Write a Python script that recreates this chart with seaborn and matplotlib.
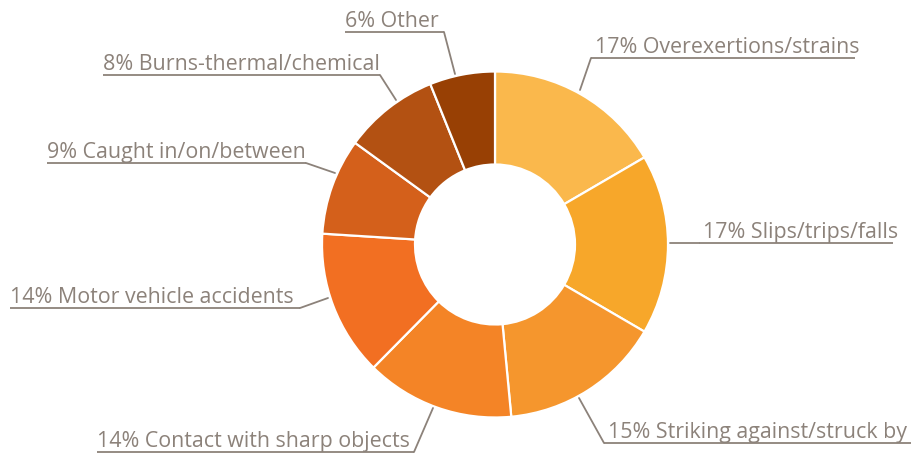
import matplotlib
matplotlib.use("Agg")
import matplotlib.pyplot as plt
import seaborn as sns

categories = ["Overexertions/strains", "Slips/trips/falls", "Striking against/struck by",
              "Contact with sharp objects", "Motor vehicle accidents", "Caught in/on/between",
              "Burns-thermal/chemical", "Other"]
label_pct = [17, 17, 15, 14, 14, 9, 8, 6]
shares = [16.6, 16.8, 15.1, 13.9, 13.6, 9.0, 8.9, 6.1]
colors = ["#FAB84C", "#F7A72A", "#F5962D", "#F48426", "#F26F22", "#D4601B", "#B35112", "#984004"]

W, H = 913, 459
sns.set_theme(style="white")
plt.rcParams['font.family'] = ['Open Sans', 'DejaVu Sans']

fig = plt.figure(figsize=(W / 100, H / 100), dpi=100)
ax = fig.add_axes([0, 0, 1, 1])

def px(x, y):
    return (x, H - y)

R = 173
ax.pie(shares, colors=sns.color_palette(colors), startangle=90, counterclock=False,
       center=px(495, 244.5), radius=R,
       wedgeprops=dict(width=R - 80, edgecolor="white", linewidth=1.6))
ax.set_xlim(0, W)
ax.set_ylim(0, H)
ax.set_aspect("equal")
ax.axis("off")

txt_color = "#8C827A"
# (text x start, underline y, underline x end, leader end point, leader attaches at 'left'/'right')
label_layout = [
    (595, 58, 855, (580, 90), "left"),
    (703, 243, 893, (670, 243), "left"),
    (608, 443, 911, (579, 398), "left"),
    (97, 452, 414, (433, 408), "right"),
    (10, 308, 300, (328, 298), "right"),
    (47, 163, 306, (335, 173), "right"),
    (103, 75, 380, (396, 100), "right"),
    (345, 32, 444, (455, 74), "right"),
]

for cat, val, (xs, uy, xe, lead, side) in zip(categories, label_pct, label_layout):
    ax.text(*px(xs, uy - 5), f"{val}% {cat}", color=txt_color, fontsize=15.4,
            ha="left", va="baseline")
    x0 = xs - 4 if side == "left" else xs
    ax.plot([px(x0, uy)[0], px(xe, uy)[0]], [px(x0, uy)[1], px(xe, uy)[1]],
            color=txt_color, lw=1.3, solid_capstyle="butt")
    jx = x0 if side == "left" else xe
    ax.plot([px(jx, uy)[0], px(*lead)[0]], [px(jx, uy)[1], px(*lead)[1]],
            color=txt_color, lw=1.3)

fig.savefig("out.png", dpi=100)
